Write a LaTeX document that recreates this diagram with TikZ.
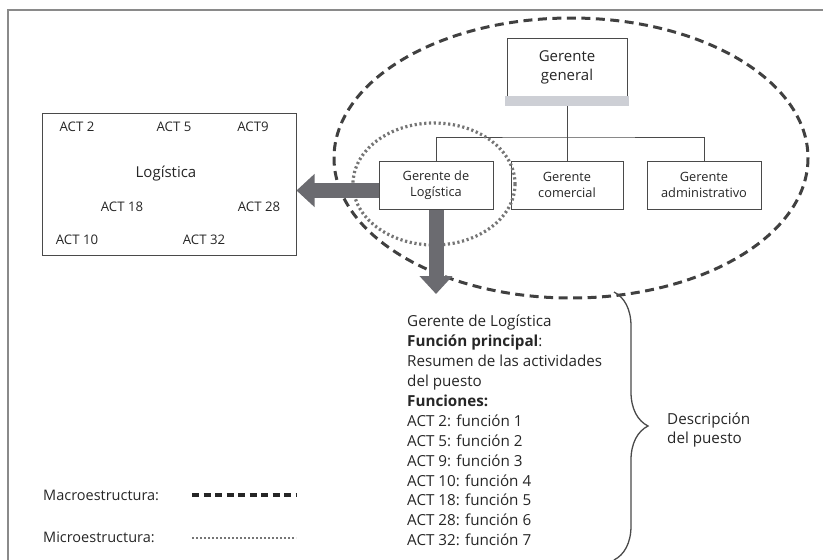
\documentclass[tikz,border=0pt]{standalone}
\usepackage{fontspec}
\setmainfont{Open Sans}
\usetikzlibrary{arrows.meta,decorations.pathreplacing,calc}
\definecolor{txt}{HTML}{262626}
\definecolor{boxc}{HTML}{4A4A4A}
\definecolor{framec}{HTML}{8A8A8A}
\definecolor{barc}{HTML}{CDCFD5}
\definecolor{arrc}{HTML}{6B6B70}
\definecolor{dashc}{HTML}{404040}
\definecolor{dotc}{HTML}{757575}
\begin{document}
\begin{tikzpicture}[x=1pt,y=-1pt, text=txt,
  box/.style={draw=boxc, line width=1pt, fill=white, align=center, inner sep=2pt,
    font=\fontsize{12.8}{16}\selectfont},
  conn/.style={draw=boxc, line width=0.9pt},
  bigarrow/.style={draw=arrc, line width=15pt, -{Triangle[width=32pt,length=18pt]}, arrc},
  macro/.style={draw=dashc, line width=3pt, dash pattern=on 9pt off 5.5pt},
  micro/.style={draw=dotc, line width=3.2pt, dash pattern=on 2.2pt off 2.6pt},
  act/.style={font=\fontsize{13.2}{15}\selectfont},
  desc/.style={font=\fontsize{15.2}{19.9}\selectfont, align=left, inner sep=0pt},
  legend/.style={font=\fontsize{14.5}{16}\selectfont, anchor=west, inner sep=0pt}]
\useasboundingbox (0,0) rectangle (823,560);

% frame
\draw[framec, line width=1.8pt] (8,560) -- (8,10) -- (823,10);

% Logistica box
\node[draw=boxc, line width=1pt, minimum width=254pt, minimum height=142pt, inner sep=0pt] (lb) at (169,184) {};
\node[act] (a2) at (77,127) {ACT 2};
\node[act] (a5) at (174,127) {ACT 5};
\node[act] (a9) at (253,127) {ACT9};
\node[font=\fontsize{15}{17}\selectfont] (lg) at (166,174) {Logística};
\node[act] (a18) at (122,207) {ACT 18};
\node[act] (a28) at (259,207) {ACT 28};
\node[act] (a10) at (77,240) {ACT 10};
\node[act] (a32) at (204,240) {ACT 32};

% org chart
\node[box, minimum width=120pt, minimum height=58pt, font=\fontsize{15}{19}\selectfont] (gg) at (567,67) {Gerente\\general};
\node[box, minimum width=114pt, minimum height=48pt] (gl) at (436,185) {Gerente de\\Logística};
\node[box, minimum width=112pt, minimum height=48pt] (gc) at (567,185) {Gerente\\comercial};
\node[box, minimum width=114pt, minimum height=48pt] (ga) at (704,185) {Gerente\\administrativo};
\coordinate (bus) at (567,137);
\draw[conn] (gg.south) -- (gc.north);
\draw[conn] (gl.north) |- (bus) -| (ga.north);
\fill[barc] (505,96) rectangle (629,106);

% ellipses
\draw[macro] (571,158) ellipse [x radius=237, y radius=140];
\draw[micro] (434,184) ellipse [x radius=81, y radius=61];

% arrows
\draw[bigarrow] ([yshift=-5.5pt]gl.west) -- ([yshift=-5.5pt]gl.west -| lb.east);
\coordinate (dn) at (436,294);
\draw[bigarrow] (gl.south) -- (dn);

% description
\node[desc, anchor=north west] (dsc) at (407,315) {Gerente de Logística\\
\textbf{Función principal}:\\
Resumen de las actividades\\
del puesto\\
\textbf{Funciones:}\\
ACT 2: función 1\\
ACT 5: función 2\\
ACT 9: función 3\\
ACT 10: función 4\\
ACT 18: función 5\\
ACT 28: función 6\\
ACT 32: función 7};
\coordinate (bt) at (614,292);
\coordinate (bb) at (614,560);
\draw[boxc, line width=1.3pt, decorate, decoration={brace, amplitude=34pt}] (bt) -- (bb);
\node[desc, anchor=west] (dp) at (667,430) {Descripción\\del puesto};

% legend
\node[legend] (lmac) at (43,495) {Macroestructura:};
\node[legend] (lmic) at (43,537) {Microestructura:};
\coordinate (m1) at (192,495);
\coordinate (m2) at (296,495);
\coordinate (n1) at (192,538);
\coordinate (n2) at (296,538);
\draw[black!85, line width=3.5pt, dash pattern=on 7pt off 4.5pt] (m1) -- (m2);
\draw[dotc, line width=2.6pt, dash pattern=on 2pt off 2pt] (n1) -- (n2);
\end{tikzpicture}
\end{document}
